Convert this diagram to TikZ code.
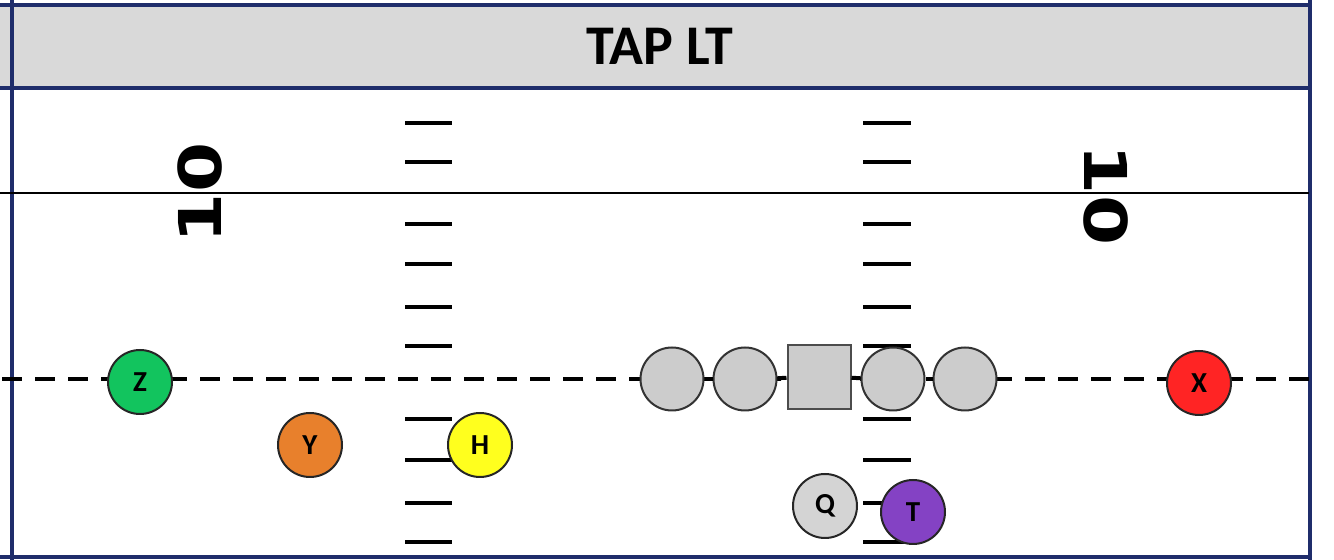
\documentclass[tikz,border=0pt]{standalone}
\usepackage{fontspec}
\setmainfont{Carlito}
\newfontfamily\numfont{DejaVu Sans}
\definecolor{navy}{HTML}{1F2D6B}
\definecolor{hdrgray}{HTML}{D9D9D9}
\definecolor{olgray}{HTML}{CCCCCC}
\definecolor{qgray}{HTML}{D4D4D4}
\definecolor{zgreen}{HTML}{12C45E}
\definecolor{yorange}{HTML}{E8802C}
\definecolor{hyellow}{HTML}{FFFF1E}
\definecolor{xred}{HTML}{FF2424}
\definecolor{tpurple}{HTML}{8442C4}
\tikzset{
  player/.style={circle, draw=black!85, line width=1pt, minimum size=32pt, inner sep=0pt,
    font=\fontsize{14.5}{14.5}\selectfont\bfseries},
  lineman/.style={circle, draw=black!80, line width=1pt, fill=olgray, minimum size=31.5pt, inner sep=0pt},
  center/.style={rectangle, draw=black!70, line width=1pt, fill=olgray, minimum width=31.5pt, minimum height=32pt, inner sep=0pt},
  hashmark/.style={line width=1.9pt, black},
  navyline/.style={navy, line width=2pt},
  yardnum/.style={font=\numfont\fontsize{36}{36}\selectfont\bfseries, inner sep=0pt, xscale=0.82},
  los/.style={line width=2pt, black, dash pattern=on 10pt off 6.5pt},
  olink/.style={line width=2pt, black}
}
\begin{document}
\begin{tikzpicture}[x=0.5pt,y=-0.5pt]
\useasboundingbox (0,0) rectangle (1334,560);
% header
\fill[hdrgray] (0,5) rectangle (1310,88);
\node[font=\fontsize{28}{28}\selectfont\bfseries] (title) at (660,46) {TAP LT};
\draw[navyline] (0,5) -- (1310,5);
\draw[navyline] (0,88) -- (1310,88);
\draw[navyline] (0,557) -- (1310,557);
\draw[navyline] (12,0) -- (12,560);
\draw[navyline] (1310,0) -- (1310,560);
% field line
\draw[black, line width=1.1pt] (0,193) -- (1309,193);
% yard numbers
\node[yardnum, rotate=90] (tenL) at (200,193) {10};
\node[yardnum, rotate=-90] (tenR) at (1106,195) {10};
% hash marks
\foreach \yy in {123,162,224,264,307,346,419,460,503,542} {
  \draw[hashmark] (405,\yy) -- (452,\yy);
  \draw[hashmark] (863,\yy) -- (911,\yy);
}
% line of scrimmage
\coordinate (losL) at (2,379);
\coordinate (losR) at (1309,379);
\draw[los] (losL) -- (1310,379);
% offensive line
\node[lineman] (lt) at (672,379) {};
\node[lineman] (lg) at (745,379) {};
\node[center] (c) at (819,377) {};
\node[lineman] (rg) at (893,379) {};
\node[lineman] (rt) at (965,379) {};
\draw[olink] (lt) -- (lg);
\draw[olink] (lg) -- (c);
\draw[olink] (c) -- (rg);
\draw[olink] (rg) -- (rt);
% skill players
\node[player, fill=zgreen] (Z) at (140,382) {Z};
\node[player, fill=yorange] (Y) at (310,445) {Y};
\node[player, fill=hyellow] (H) at (480,445) {H};
\node[player, fill=xred] (X) at (1199,383) {X};
\node[player, fill=qgray] (Q) at (825,506) {Q};
\node[player, fill=tpurple] (T) at (913,512) {T};
\end{tikzpicture}
\end{document}
